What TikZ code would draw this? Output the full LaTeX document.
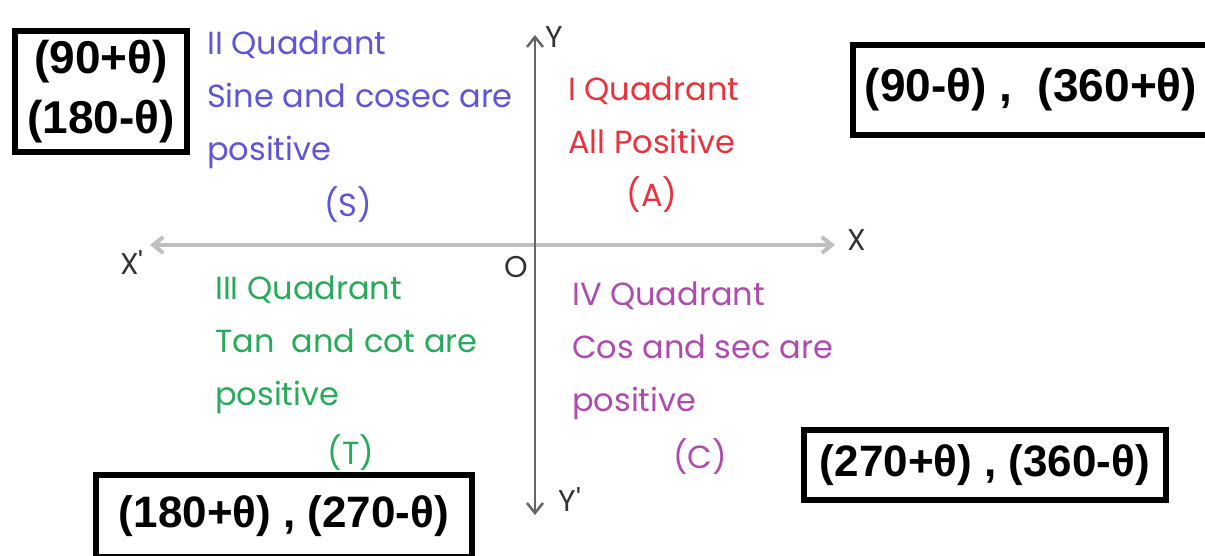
\documentclass[tikz,border=0pt]{standalone}
\usepackage{fontspec}
\setmainfont{Liberation Sans}
\newfontfamily\handfont{Poppins}
\usetikzlibrary{arrows.meta}

\definecolor{quadzwei}{RGB}{95,85,215}
\definecolor{quadeins}{RGB}{235,50,60}
\definecolor{quaddrei}{RGB}{40,170,90}
\definecolor{quadvier}{RGB}{175,75,175}

\begin{document}
\begin{tikzpicture}[x=1pt, y=-1pt,
			>={Straight Barb[length=10pt,width=16pt]},   %Pfeilspitzen
			winkelbox/.style={draw, line width=6pt, inner sep=0pt, align=center,
				font=\fontsize{46}{60}\selectfont\bfseries},
			quadtext/.style={anchor=north west, align=left, inner sep=0pt,
				font=\fontsize{32}{53}\handfont},
			quadbuchst/.style={inner sep=0pt, font=\fontsize{32}{36}\handfont},
			achsname/.style={inner sep=0pt, text=black!80, font=\fontsize{30}{36}\handfont}]
			\useasboundingbox (0,0) rectangle (1205,556);
			% Achsen zeichnen
			\coordinate (xneg) at (150,245);
			\coordinate (xpos) at (835,245);
			\coordinate (ypos) at (535,35);
			\coordinate (yneg) at (535,515);
			\draw[<->, line width=4pt, color=black!25] (xneg) -- (xpos);
			\draw[<->, line width=2.5pt, color=black!60] (yneg) -- (ypos);
			% Achsen beschriften
			\node[achsname] (labx) at (857,240) {X};
			\node[achsname] (labxs) at (132,263) {X'};
			\node[achsname] (laby) at (554,37) {Y};
			\node[achsname] (labys) at (570,500) {Y'};
			\node[achsname] (ursprung) at (516,267) {O};
			% Quadranten
			\node[quadtext, text=quadzwei] (quadII) at (207,31) {II Quadrant\\Sine and cosec are\\positive};
			\node[quadbuchst, text=quadzwei] (buchS) at (348,205) {(S)};
			\node[quadtext, text=quadeins] (quadI) at (568,77) {I Quadrant\\All Positive};
			\node[quadbuchst, text=quadeins] (buchA) at (652,195) {(A)};
			\node[quadtext, text=quaddrei] (quadIII) at (215,276) {III Quadrant\\Tan\ \ and cot are\\positive};
			\node[quadbuchst, text=quaddrei] (buchT) at (351,453) {(T)};
			\node[quadtext, text=quadvier] (quadIV) at (572,282) {IV Quadrant\\Cos and sec are\\positive};
			\node[quadbuchst, text=quadvier] (buchC) at (700,457) {(C)};
			% Winkel-Kaesten
			\node[winkelbox, minimum width=172, minimum height=121] (boxII) at (101,91.5) {(90+θ)\\(180-θ)};
			\node[winkelbox, minimum width=356, minimum height=90] (boxI) at (1031,90) {(90-θ)\ ,\ \ (360+θ)};
			\node[winkelbox, minimum width=362, minimum height=70, font=\fontsize{44}{50}\selectfont\bfseries] (boxIV) at (985,465) {(270+θ) , (360-θ)};
			\node[winkelbox, minimum width=376, minimum height=82, font=\fontsize{44}{50}\selectfont\bfseries] (boxIII) at (284,516) {(180+θ) , (270-θ)};
		\end{tikzpicture}
\end{document}
